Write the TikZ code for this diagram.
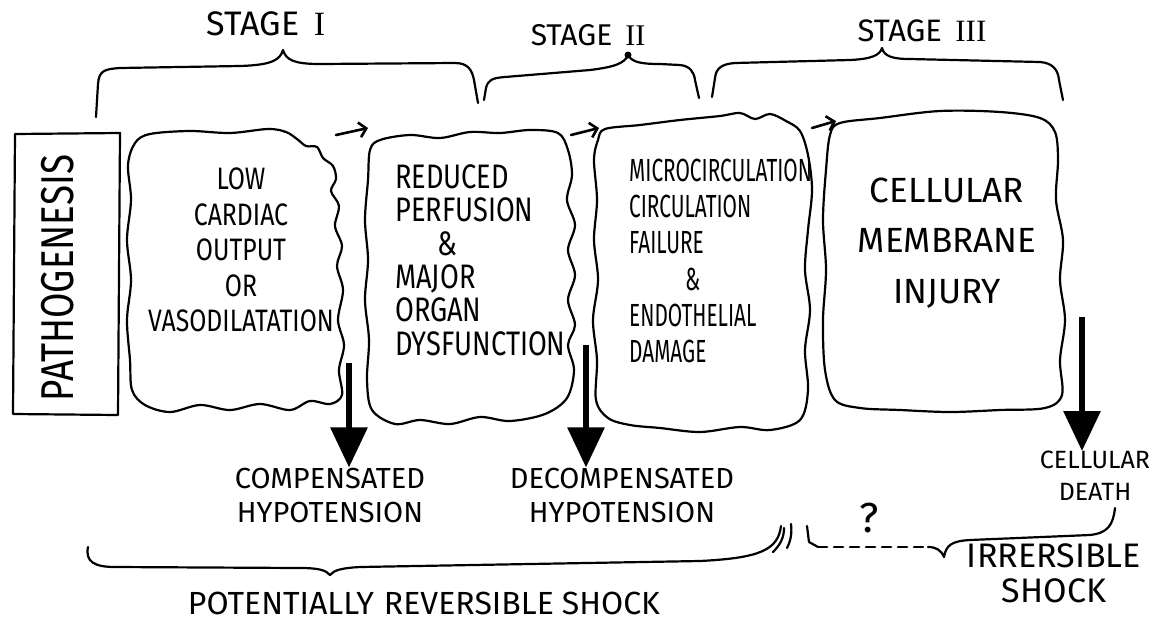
\documentclass[tikz,border=0pt]{standalone}
\usepackage{fontspec}
\usetikzlibrary{arrows.meta}
\newfontfamily\hand[FakeStretch=0.8]{Fira Sans}
\newfontfamily\handnarrow[FakeStretch=0.65]{Fira Sans}
\newfontfamily\handwide{Fira Sans}
\newfontfamily\numfont{Liberation Serif}
\newcommand{\hsz}[2]{\hand\fontsize{#1}{#2}\selectfont}
\newcommand{\hnz}[2]{\handnarrow\fontsize{#1}{#2}\selectfont}
\newcommand{\hwz}[2]{\handwide\fontsize{#1}{#2}\selectfont}
\tikzset{
  ink/.style={line width=2.2pt, line cap=round, line join=round},
  txt/.style={inner sep=0pt, align=center},
  downarrow/.style={line width=6pt, -{Triangle[width=36pt,length=40pt]}},
  nextarrow/.style={line width=2.6pt, line cap=round, -{Straight Barb[length=7pt,width=15pt]}},
}
\begin{document}
\begin{tikzpicture}[x=1pt,y=-1pt]
\useasboundingbox (0,0) rectangle (1154,622);
\fill[white] (0,0) rectangle (1154,622);

% ---- stage titles ----
\node[txt, font=\hwz{34}{40}] (s1) at (266,24) {STAGE \,{\numfont I}};
\node[txt, font=\hwz{30}{34}] (s2) at (588,35) {STAGE \,{\numfont II}};
\node[txt, font=\hwz{31}{34}] (s3) at (922,31) {STAGE \,{\numfont III}};

% ---- stage braces ----
\draw[ink] (96,117) -- (98,84) .. controls (99,71) and (104,69) .. (120,68)
  -- (240,66) .. controls (272,65) and (280,60) .. (283,50)
  .. controls (286,60) and (294,64) .. (320,64) -- (455,63)
  .. controls (468,63) and (472,70) .. (474,80) -- (478,103);
\draw[ink] (484,100) -- (486,88) .. controls (488,80) and (492,78) .. (505,77)
  -- (590,70) .. controls (615,67) and (625,63) .. (628,55)
  .. controls (632,62) and (640,64) .. (660,64) -- (680,65)
  .. controls (690,66) and (694,72) .. (695,80) -- (699,98);
\fill (628,55) circle (3.5);
\draw[ink] (712,97) -- (715,78) .. controls (716,68) and (722,64) .. (735,63)
  -- (850,60) .. controls (872,59) and (880,55) .. (882,48)
  .. controls (884,56) and (892,59) .. (910,59) -- (1040,62)
  .. controls (1053,63) and (1058,70) .. (1059,80) -- (1063,100);

% ---- pathogenesis column ----
\draw[ink] (15,134) -- (120,133) -- (118,415) -- (13,414) -- cycle;
\node[txt, rotate=90, font=\hsz{46}{50}] (path) at (58,278) {PATHOGENESIS};

% ---- stage boxes (hand-drawn outlines) ----
\draw[ink] plot[smooth cycle, tension=0.55] coordinates {
  (150,134) (190,131) (230,133) (268,129) (286,132) (297,139) (306,146)
  (317,147) (323,158) (333,166) (336,179) (331,191) (339,206) (335,226)
  (342,246) (337,266)
  (343,290) (338,320) (344,345) (339,370) (342,395) (330,404) (310,401)
  (290,410) (260,404) (230,410) (200,405) (170,412) (145,405) (132,390)
  (130,360) (127,320) (131,280) (127,240) (131,200) (128,165) (135,143)};
\draw[ink] plot[smooth cycle, tension=0.55] coordinates {
  (380,140) (410,135) (440,138) (470,132) (500,133) (530,130) (558,133)
  (568,150) (572,175) (567,200) (575,225) (568,250) (575,275) (568,300)
  (575,325) (568,345) (574,370) (567,398) (545,414) (510,421) (480,417)
  (450,424) (420,420) (395,424) (372,410) (367,380) (369,340) (365,300)
  (368,260) (365,220) (368,180) (370,150)};
\draw[ink] plot[smooth cycle, tension=0.55] coordinates {
  (605,129) (640,125) (680,120) (720,116) (740,113) (755,119) (770,114)
  (786,121) (800,131) (808,155) (812,190) (808,230) (805,270) (810,310)
  (805,350) (808,390) (800,420) (770,430) (740,427) (700,432) (660,428)
  (630,425) (608,418) (596,400) (597,360) (593,320) (598,280) (594,240)
  (597,200) (594,160) (598,140)};
\draw[ink] plot[smooth cycle, tension=0.55] coordinates {
  (840,123) (880,118) (940,111) (1000,112) (1040,118) (1055,132)
  (1058,160) (1056,200) (1063,240) (1060,280) (1065,320) (1060,360)
  (1062,395) (1045,408) (1000,410) (950,412) (900,410) (860,408)
  (835,400) (825,370) (823,320) (826,270) (823,220) (826,170) (830,135)};

% ---- box texts ----
\node[txt, font=\hsz{31}{35.5}] (b1) at (241,250)
  {LOW\\CARDIAC\\OUTPUT\\OR\\VASODILATATION};
\node[txt, align=left, anchor=west, font=\hsz{34}{33.4}] (b2) at (395,260)
  {REDUCED\\PERFUSION\\\hspace*{42pt}\&\\MAJOR\\ORGAN\\DYSFUNCTION};
\node[txt, align=left, anchor=west, font=\hnz{32}{36.2}] (b3) at (629,261)
  {MICROCIRCULATION\\CIRCULATION\\FAILURE\\\hspace*{56pt}\&\\ENDOTHELIAL\\DAMAGE};
\node[txt, font=\hwz{35}{50.5}] (b4) at (947,243)
  {CELLULAR\\MEMBRANE\\INJURY};

% ---- arrows from one stage to the next ----
\coordinate (n1a) at (336,135); \coordinate (n1b) at (368,128);
\coordinate (n2a) at (571,135); \coordinate (n2b) at (599,128);
\coordinate (n3a) at (812,128); \coordinate (n3b) at (836,121);
\draw[nextarrow] (n1a) -- (n1b);
\draw[nextarrow] (n2a) -- (n2b);
\draw[nextarrow] (n3a) -- (n3b);

% ---- outcomes ----
\node[txt, font=\hwz{29}{34}] (comp) at (330,495) {COMPENSATED\\HYPOTENSION};
\node[txt, font=\hwz{29}{34}] (decomp) at (622,495) {DECOMPENSATED\\HYPOTENSION};
\node[txt, font=\hwz{25}{32}] (death) at (1095,476) {CELLULAR\\DEATH};

\coordinate (d1) at (349,363);
\coordinate (d2) at (586,345);
\coordinate (d3) at (1082,317);
\draw[downarrow] (d1) -- (d1 |- comp.north);
\draw[downarrow] (d2) -- (d2 |- decomp.north);
\draw[downarrow] (d3) -- (d3 |- death.north);

% ---- reversible / irreversible span ----
\draw[ink] (88,547) .. controls (85,562) and (95,567) .. (115,567)
  -- (300,568) .. controls (318,568) and (326,570) .. (330,575)
  .. controls (334,570) and (342,568) .. (360,567)
  -- (700,561) .. controls (760,558) and (778,550) .. (781,526);
\draw[ink] (773,552) .. controls (780,545) and (784,538) .. (784,528);
\draw[ink] (787,548) .. controls (791,540) and (792,533) .. (791,524);
\draw[ink] (807,526) -- (809,542) -- (818,547);
\draw[ink, dash pattern=on 9pt off 7pt] (818,547) -- (928,547);
\draw[ink] (928,547) .. controls (936,547) and (941,550) .. (944,557)
  .. controls (946,545) and (952,541) .. (970,540) -- (1090,535)
  .. controls (1108,533) and (1113,525) .. (1115,508);
\node[txt, font=\hwz{42}{44}] (q) at (869,518) {?};

\node[txt, font=\hwz{32}{36}] (rev) at (424,603)
  {POTENTIALLY\hspace{10pt}REVERSIBLE\hspace{8pt}SHOCK};
\node[txt, font=\hwz{34}{35}] (irr) at (1054,573) {IRRERSIBLE\\SHOCK};
\end{tikzpicture}
\end{document}
